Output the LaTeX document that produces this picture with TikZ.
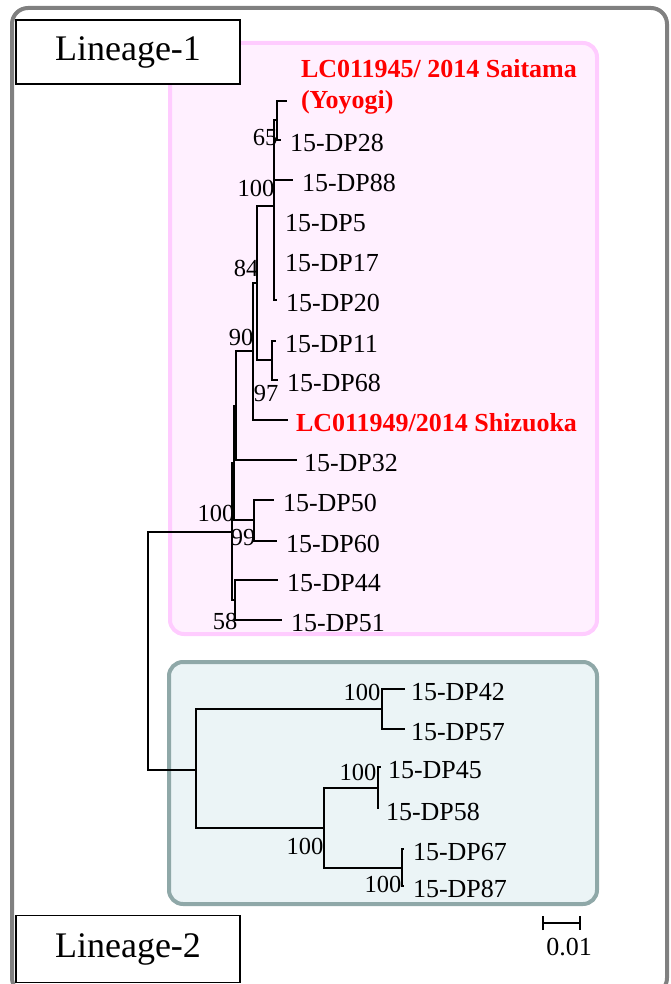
\documentclass[tikz,border=0pt]{standalone}
\usepackage{fontspec}
\setmainfont{Liberation Serif}
\usetikzlibrary{positioning, arrows.meta}

\definecolor{pinkline}{RGB}{255,204,255}
\definecolor{pinkfill}{RGB}{255,240,255}
\definecolor{tealline}{RGB}{143,168,168}
\definecolor{tealfill}{RGB}{235,244,246}
\definecolor{frameline}{RGB}{128,128,128}

\begin{document}
\begin{tikzpicture}[
    x=1pt, y=-1pt, line width=2pt, node distance=8pt,
    frame/.style={draw=frameline, line width=4pt, rounded corners=16pt},
    l1box/.style={draw=pinkline, fill=pinkfill, line width=4pt, rounded corners=14pt},
    l2box/.style={draw=tealline, fill=tealfill, line width=4pt, rounded corners=14pt},
    linbox/.style={draw, fill=white, line width=1.8pt, minimum width=224pt, minimum height=64pt, font=\fontsize{36}{40}\selectfont},
    lbl/.style={inner sep=0pt, font=\fontsize{26}{30}\selectfont},
    tip/.style={lbl, yshift=-3pt},
    ref/.style={inner sep=0pt, text=red, font=\fontsize{26}{30}\selectfont\bfseries},
    boot/.style={inner sep=0pt, font=\fontsize{24.5}{28}\selectfont},
    branch/.style={to path={|- (\tikztotarget)}}
]
    \useasboundingbox (0,0) rectangle (670,984);
    \draw[frame] (12,8) rectangle (667,994);
    \draw[l1box] (170,43) rectangle (597,634);
    \draw[l2box] (169,662) rectangle (597,904);

    \node[linbox] (lin1) at (128,52) {Lineage-1};
    \node[linbox, minimum height=67pt] (lin2) at (128,949) {Lineage-2};

    % internal nodes
    \coordinate (root) at (148,651);
    \coordinate (nL1) at (232,532);
    \coordinate (nB) at (234,463);
    \coordinate (nA) at (236,406);
    \coordinate (n90) at (253,351);
    \coordinate (n84) at (257,283);
    \coordinate (n100) at (274,206);
    \coordinate (n65) at (277,120);
    \coordinate (n97) at (272,360);
    \coordinate (n99) at (254,520);
    \coordinate (n58) at (235,600);
    \coordinate (nL2) at (196,770);
    \coordinate (nL2a) at (382,709);
    \coordinate (nL2d) at (324,828);
    \coordinate (nL2b) at (378,788);
    \coordinate (nL2c) at (402,868);

    % tips
    \coordinate (eY) at (287,101);
    \coordinate (e28) at (281,140);
    \coordinate (e88) at (293,180);
    \coordinate (e5) at (274,220);
    \coordinate (e17) at (274,260);
    \coordinate (e20) at (277,300);
    \coordinate (e11) at (276,341);
    \coordinate (e68) at (278,380);
    \coordinate (eSz) at (288,420);
    \coordinate (e32) at (297,460);
    \coordinate (e50) at (274,500);
    \coordinate (e60) at (277,541);
    \coordinate (e44) at (278,580);
    \coordinate (e51) at (282,620);
    \coordinate (e42) at (405,689);
    \coordinate (e57) at (405,729);
    \coordinate (e45) at (381,767);
    \coordinate (e58) at (378,809);
    \coordinate (e67) at (404,849);
    \coordinate (e87) at (404,886);

    \path[draw]
        (root) edge[branch] (nL1)
        (root) edge[branch] (nL2)
        (nL1) edge[branch] (nB)
        (nL1) edge[branch] (n58)
        (nB) edge[branch] (nA)
        (nB) edge[branch] (n99)
        (nA) edge[branch] (n90)
        (nA) edge[branch] (e32)
        (n90) edge[branch] (n84)
        (n90) edge[branch] (eSz)
        (n84) edge[branch] (n100)
        (n84) edge[branch] (n97)
        (n100) edge[branch] (n65)
        (n100) edge[branch] (e88)
        (n100) edge[branch] (e5)
        (n100) edge[branch] (e17)
        (n100) edge[branch] (e20)
        (n65) edge[branch] (eY)
        (n65) edge[branch] (e28)
        (n97) edge[branch] (e11)
        (n97) edge[branch] (e68)
        (n99) edge[branch] (e50)
        (n99) edge[branch] (e60)
        (n58) edge[branch] (e44)
        (n58) edge[branch] (e51)
        (nL2) edge[branch] (nL2a)
        (nL2) edge[branch] (nL2d)
        (nL2a) edge[branch] (e42)
        (nL2a) edge[branch] (e57)
        (nL2d) edge[branch] (nL2b)
        (nL2d) edge[branch] (nL2c)
        (nL2b) edge[branch] (e45)
        (nL2b) edge[branch] (e58)
        (nL2c) edge[branch] (e67)
        (nL2c) edge[branch] (e87);

    \node[ref, right=13pt of eY, yshift=-1pt] (lY) {(Yoyogi)};
    \node[ref, anchor=base west] (lYa) at ([yshift=31pt]lY.base west) {LC011945/ 2014 Saitama};
    \node[tip, right=of e28] (l28) {15-DP28};
    \node[tip, right=of e88] (l88) {15-DP88};
    \node[tip, right=10pt of e5] (l5) {15-DP5};
    \node[tip, right=10pt of e17] (l17) {15-DP17};
    \node[tip, right=of e20] (l20) {15-DP20};
    \node[tip, right=of e11] (l11) {15-DP11};
    \node[tip, right=of e68] (l68) {15-DP68};
    \node[ref, right=7pt of eSz, yshift=-3pt] (lSz) {LC011949/2014 Shizuoka};
    \node[tip, right=6pt of e32] (l32) {15-DP32};
    \node[tip, right=of e50] (l50) {15-DP50};
    \node[tip, right=of e60] (l60) {15-DP60};
    \node[tip, right=of e44] (l44) {15-DP44};
    \node[tip, right=of e51] (l51) {15-DP51};
    \node[tip, right=5pt of e42] (l42) {15-DP42};
    \node[tip, right=5pt of e57] (l57) {15-DP57};
    \node[tip, right=6pt of e45] (l45) {15-DP45};
    \node[tip, right=7pt of e58] (l58) {15-DP58};
    \node[tip, right=of e67] (l67) {15-DP67};
    \node[tip, right=of e87] (l87) {15-DP87};

    % bootstrap values
    \node[boot] (b65) at (265,138) {65};
    \node[boot] (b100) at (256,188) {100};
    \node[boot] (b84) at (246,268) {84};
    \node[boot] (b90) at (241,337) {90};
    \node[boot] (b97) at (266,394) {97};
    \node[boot] (bL1) at (216,513) {100};
    \node[boot] (b99) at (243,538) {99};
    \node[boot] (b58) at (225,621) {58};
    \node[boot] (bL2a) at (362,692) {100};
    \node[boot] (bL2b) at (358,772) {100};
    \node[boot] (bL2d) at (305,846) {100};
    \node[boot] (bL2c) at (383,884) {100};

    % scale
    \coordinate (s1) at (542,923);
    \coordinate (s2) at (581,923);
    \draw[{Bar[width=14pt]}-{Bar[width=14pt]}] (s1) -- (s2);
    \node[lbl] (sc) at (569,947) {0.01};
\end{tikzpicture}
\end{document}
